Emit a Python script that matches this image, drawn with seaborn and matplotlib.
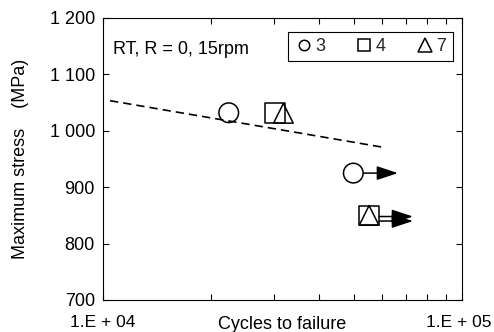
import numpy as np
import pandas as pd
import seaborn as sns
import matplotlib
matplotlib.use("Agg")
import matplotlib.pyplot as plt
import matplotlib.transforms as mtransforms
from matplotlib.lines import Line2D
from matplotlib.ticker import FixedLocator, FixedFormatter, NullFormatter

# ---- data ----
specimens = ["3", "4", "7", "3", "4", "7"]
cycles = [22400, 30100, 31800, 49800, 55100, 55100]
stress = [1032, 1032, 1031, 925, 850, 850]

runout_start = [49800, 55100, 55100]
runout_end = [66300, 73000, 73000]
runout_stress = [925, 848, 840]

fit_cycles = [10460, 60400]
fit_stress = [1053.4, 970.7]

legend_labels = ["3", "4", "7"]
xtick_values = [1e4, 1e5]
xtick_labels = ["1.E + 04", "1.E + 05"]
xminor_values = [2e4, 3e4, 4e4, 5e4, 6e4, 7e4, 8e4, 9e4]
ytick_values = [700, 800, 900, 1000, 1100, 1200]
ytick_labels = ["700", "800", "900", "1 000", "1 100", "1 200"]
annotation = "RT, R = 0, 15rpm"

# ---- style ----
sns.set_theme(style="ticks")
plt.rcParams["font.family"] = ["Liberation Sans", "DejaVu Sans"]
FS = 13
marker_map = {"3": "o", "4": "s", "7": "^"}

fig = plt.figure(figsize=(4.94, 3.32), dpi=100, facecolor="white")
ax = fig.add_axes([0.2085, 0.0964, 0.7267, 0.8494])
ax.set_xscale("log")

df = pd.DataFrame({"specimen": specimens, "cycles": cycles, "stress": stress})

sns.lineplot(x=fit_cycles, y=fit_stress, color="black", linewidth=1.2,
             linestyle=(0, (5, 3)), ax=ax, zorder=2)

sns.scatterplot(data=df, x="cycles", y="stress", style="specimen",
                markers=marker_map, s=200, color="black", linewidth=1.1,
                legend=False, ax=ax, zorder=3)
for coll in ax.collections:
    coll.set_facecolor("none")
    coll.set_edgecolor("black")
    coll.set_linewidth(1.1)

for xs, xe, ys in zip(runout_start, runout_end, runout_stress):
    ax.annotate("", xy=(xe, ys), xytext=(xs, ys),
                arrowprops=dict(arrowstyle="-|>,head_length=1.3,head_width=0.43",
                                mutation_scale=10, shrinkA=7.3, shrinkB=0,
                                lw=1.1, color="black"), zorder=4)

ax.set_xlim(1e4, 1e5)
ax.set_ylim(700, 1200)
ax.xaxis.set_major_locator(FixedLocator(xtick_values))
ax.xaxis.set_major_formatter(FixedFormatter(xtick_labels))
ax.xaxis.set_minor_locator(FixedLocator(xminor_values))
ax.xaxis.set_minor_formatter(NullFormatter())
ax.yaxis.set_major_locator(FixedLocator(ytick_values))
ax.yaxis.set_major_formatter(FixedFormatter(ytick_labels))

ax.tick_params(which="both", direction="in", top=True, right=True,
               length=4, width=0.8, color="black", labelcolor="black",
               labelsize=FS)
ax.tick_params(axis="y", pad=5.8)
ax.tick_params(axis="x", pad=11, labelsize=12.5)
for sp in ax.spines.values():
    sp.set_visible(True)
    sp.set_color("black")
    sp.set_linewidth(0.8)

# nudge the right-most x tick label slightly inward so it stays in frame
last_lbl = ax.get_xticklabels()[-1]
last_lbl.set_transform(last_lbl.get_transform() +
                       mtransforms.ScaledTranslation(-3 / 100, 0, fig.dpi_scale_trans))

ax.set_xlabel("Cycles to failure", fontsize=FS, color="black")
ax.xaxis.set_label_coords(0.5, -0.058)
ax.set_ylabel("Maximum stress    (MPa)", fontsize=FS, color="black")
ax.yaxis.set_label_coords(-0.207, 0.5)

ax.text(0.028, 0.872, annotation, transform=ax.transAxes, fontsize=FS,
        va="baseline", ha="left", color="black")

handles = [Line2D([], [], marker=marker_map[l], linestyle="none",
                  markerfacecolor="none", markeredgecolor="black",
                  markersize=ms, markeredgewidth=1.1)
           for l, ms in zip(legend_labels, [7.5, 8.5, 9.5])]
leg = ax.legend(handles, legend_labels, ncol=3, loc="upper right",
                bbox_to_anchor=(0.974, 0.951), borderaxespad=0,
                fontsize=FS, frameon=True, fancybox=False, framealpha=1,
                edgecolor="black", borderpad=0.35, handlelength=1.0,
                handletextpad=0.15, columnspacing=1.65)
leg.get_frame().set_linewidth(0.8)

fig.savefig("out.png", dpi=100, facecolor="white")
